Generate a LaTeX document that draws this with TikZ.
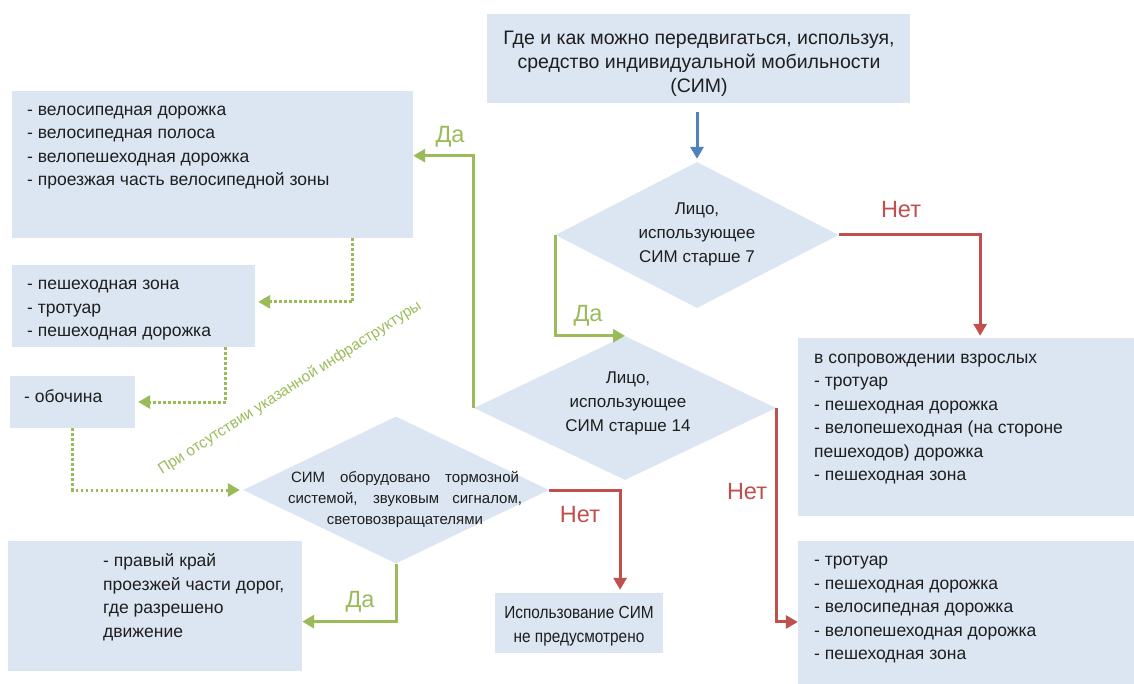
\documentclass[tikz,border=0pt]{standalone}
\usepackage{fontspec}
\setmainfont{Liberation Sans}
\newfontfamily\narrowfont{Liberation Sans}[FakeStretch=0.88]
\usetikzlibrary{arrows.meta,shapes.geometric,calc,fit}
\definecolor{boxfill}{RGB}{220,230,242}
\definecolor{ggreen}{RGB}{155,187,89}
\definecolor{rred}{RGB}{192,80,77}
\definecolor{bblue}{RGB}{79,129,189}
\definecolor{ink}{RGB}{30,30,30}
\begin{document}
\begin{tikzpicture}[x=1pt,y=-1pt,
  box/.style={fill=boxfill,draw=none,inner sep=0pt},
  dia/.style={diamond,fill=boxfill,draw=none,inner sep=0pt},
  bodytxt/.style={font=\fontsize{17.5}{23.5}\selectfont,text=ink,align=left,inner sep=0pt},
  tip/.style={-{Triangle[length=12pt,width=13pt]}},
  yesline/.style={draw=ggreen,line width=3pt,tip},
  noline/.style={draw=rred,line width=3pt,tip},
  altline/.style={draw=ggreen,line width=3pt,dash pattern=on 2.5pt off 2.5pt,tip},
  ylabel/.style={text=ggreen,font=\fontsize{23.5}{25}\selectfont,inner sep=0pt},
  nlabel/.style={text=rred,font=\fontsize{23.5}{25}\selectfont,inner sep=0pt}
]
\useasboundingbox (0,0) rectangle (1134,684);

% boxes
\node[box,fit={(487,14)(910,103)}] (b0) {};
\node[box,fit={(12,91)(413,238)}] (b1) {};
\node[box,fit={(12,265)(255,347)}] (b2) {};
\node[box,fit={(10,376)(135,428)}] (b3) {};
\node[box,fit={(8,541)(302,671)}] (b4) {};
\node[box,fit={(495,593)(663,653)}] (b5) {};
\node[box,fit={(798,338)(1134,516)}] (b6) {};
\node[box,fit={(798,541)(1134,684)}] (b7) {};

% diamonds
\node[dia,minimum width=283pt,minimum height=146pt] (d1) at (697,235) {};
\node[dia,minimum width=302pt,minimum height=144pt] (d2) at (625,408) {};
\node[dia,minimum width=306pt,minimum height=147pt] (d3) at (396,490) {};

% texts
\node[bodytxt,font=\fontsize{19.5}{24}\selectfont,align=center] (t0) at (699,63.5) {Где и как можно передвигаться, используя,\\средство индивидуальной мобильности\\(СИМ)};
\node[bodytxt,anchor=west] (t1) at (27,147.5) {- велосипедная дорожка\\- велосипедная полоса\\- велопешеходная дорожка\\- проезжая часть велосипедной зоны};
\node[bodytxt,anchor=west] (t2) at (27,310.5) {- пешеходная зона\\- тротуар\\- пешеходная дорожка};
\node[bodytxt,anchor=west] (t3) at (24,396) {- обочина};
\node[bodytxt,anchor=west] (t4) at (103,597) {- правый край\\проезжей части дорог,\\где разрешено\\движение};
\node[bodytxt,font=\narrowfont\fontsize{17.5}{24}\selectfont,align=center] (t5) at (579,626) {Использование СИМ\\не предусмотрено};
\node[bodytxt,anchor=west] (t6) at (814,419) {в сопровождении взрослых\\- тротуар\\- пешеходная дорожка\\- велопешеходная (на стороне\\пешеходов) дорожка\\- пешеходная зона};
\node[bodytxt,anchor=west] (t7) at (814,610) {- тротуар\\- пешеходная дорожка\\- велосипедная дорожка\\- велопешеходная дорожка\\- пешеходная зона};
\node[bodytxt,font=\fontsize{17}{24}\selectfont,align=center] (td1) at (697,234) {Лицо,\\использующее\\СИМ старше 7};
\node[bodytxt,font=\fontsize{17}{24}\selectfont,align=center] (td2) at (628,403.5) {Лицо,\\использующее\\СИМ старше 14};
\node[bodytxt,font=\fontsize{15}{21}\selectfont,align=center] (td3) at (405,499) {\makebox[228pt][s]{СИМ оборудовано тормозной}\\\makebox[234pt][s]{системой, звуковым сигналом,}\\световозвращателями};
\node[text=ggreen,font=\fontsize{15.3}{17}\selectfont,rotate=32.6,inner sep=0pt] (note) at (290,388) {При отсутствии указанной инфраструктуры};

% labels
\node[ylabel] (ly1) at (450,137) {Да};
\node[nlabel] (ln1) at (901,210) {Нет};
\node[ylabel] (ly2) at (588,316) {Да};
\node[nlabel] (ln2) at (747,492) {Нет};
\node[nlabel] (ln3) at (580,515) {Нет};
\node[ylabel] (ly3) at (360,602) {Да};

% connectors
\draw[draw=bblue,line width=3pt,tip,shorten <=9pt,shorten >=3pt] (b0.south -| d1.north) -- (d1.north);
\draw[noline,shorten >=2pt] (d1.east) -| ($(b6.north west)!0.542!(b6.north east)$);
\draw[yesline] (d1.west) |- (d2.north);
\draw[yesline] (d2.west) |- ($(b1.north east)!0.44!(b1.south east)$);
\draw[noline] (d2.east) |- ($(b7.north west)!0.566!(b7.south west)$);
\draw[noline,shorten >=3pt] (d3.east) -| ($(b5.north west)!0.744!(b5.north east)$);
\draw[yesline] (d3.south) |- ($(b4.north east)!0.62!(b4.south east)$);
\draw[altline] ($(b1.south west)!0.85!(b1.south east)$) |- ($(b2.north east)!0.45!(b2.south east)+(3,0)$);
\draw[altline] ($(b2.south west)!0.88!(b2.south east)$) |- ($(b3.east)+(3,0)$);
\draw[altline] (b3.south) |- ($(d3.west)+(-3,0)$);
\end{tikzpicture}
\end{document}
